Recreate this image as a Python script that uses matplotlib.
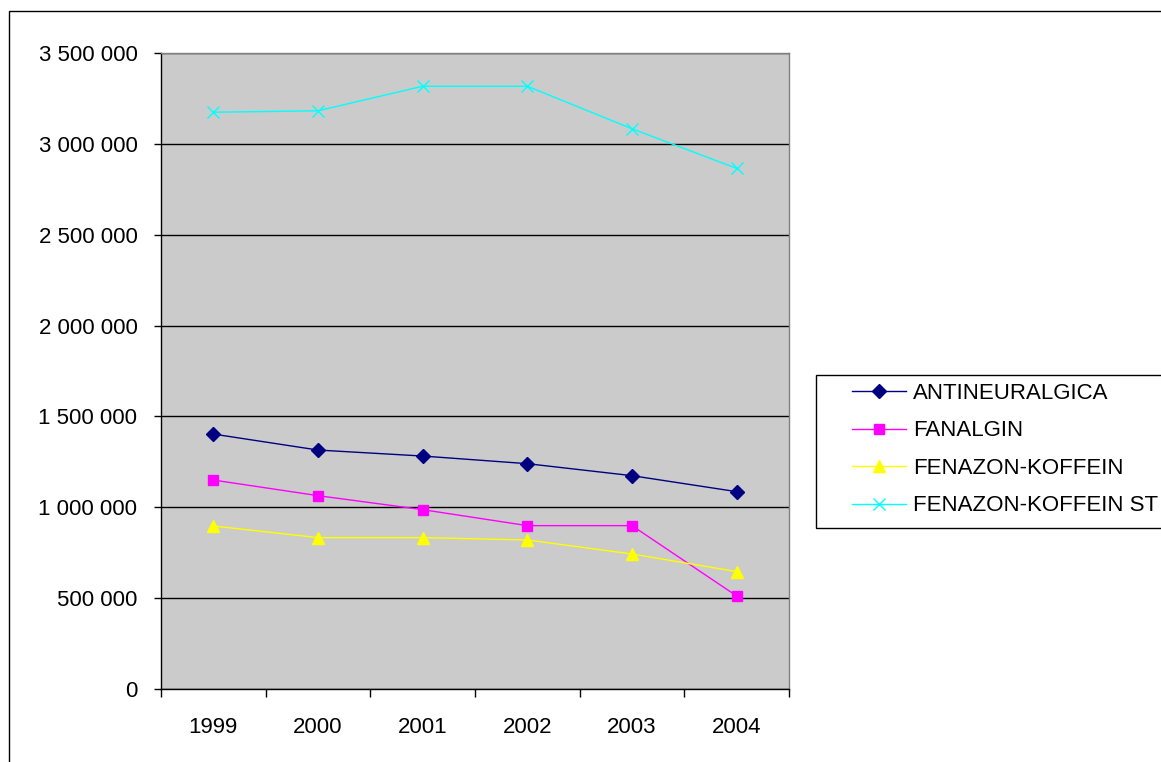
import matplotlib
matplotlib.use("Agg")
import matplotlib.pyplot as plt
from matplotlib.patches import Rectangle
from matplotlib.ticker import FuncFormatter, FixedLocator

years = ["1999", "2000", "2001", "2002", "2003", "2004"]
antineuralgica = [1403000, 1315000, 1282000, 1240000, 1174000, 1086000]
fanalgin = [1150000, 1064000, 987000, 899000, 899000, 512000]
fenazon_koffein = [897000, 833000, 833000, 820000, 743000, 646000]
fenazon_koffein_st = [3174000, 3182000, 3317000, 3317000, 3083000, 2865000]
series_names = ["ANTINEURALGICA", "FANALGIN", "FENAZON-KOFFEIN", "FENAZON-KOFFEIN ST"]
y_ticks = [0, 500000, 1000000, 1500000, 2000000, 2500000, 3000000, 3500000]

plt.rcParams['font.family'] = ['Liberation Sans', 'DejaVu Sans']
FS = 16
W, H = 1161, 762
fig = plt.figure(figsize=(W / 100, H / 100), dpi=100)
fig.patch.set_facecolor('white')

ax = fig.add_axes([161 / W, 1 - 689 / H, (789 - 161) / W, (689 - 53) / H])
ax.set_facecolor('#CBCBCB')

x = list(range(len(years)))
styles = [
    dict(color='#000080', marker='D', markersize=7, mfc='#000080', mec='#000080'),
    dict(color='#FF00FF', marker='s', markersize=7.5, mfc='#FF00FF', mec='#FF00FF'),
    dict(color='#FFFF00', marker='^', markersize=9, mfc='#FFFF00', mec='#FFFF00'),
    dict(color='#00FFFF', marker='x', markersize=9, mfc='none', mec='#00FFFF', mew=1.0),
]
data = [antineuralgica, fanalgin, fenazon_koffein, fenazon_koffein_st]
for vals, name, st in zip(data, series_names, styles):
    ax.plot(x, vals, lw=1.0, label=name, zorder=3, clip_on=False, **st)

ax.set_xlim(-0.5, len(years) - 0.5)
ax.set_ylim(0, 3500000)
ax.yaxis.set_major_locator(FixedLocator(y_ticks))
ax.yaxis.set_major_formatter(FuncFormatter(lambda v, p: f"{int(v):,}".replace(',', ' ')))
ax.grid(axis='y', color='black', lw=1.0, zorder=1)
ax.set_axisbelow(True)

ax.set_xticks(x)
ax.set_xticklabels(years)
ax.set_xticks([i - 0.5 for i in range(len(years) + 1)], minor=True)
ax.tick_params(axis='x', which='major', length=0, pad=20, labelsize=FS)
ax.tick_params(axis='x', which='minor', length=6, width=1, direction='out', color='black')
ax.tick_params(axis='y', which='major', length=5, width=1, direction='out', pad=12,
               labelsize=FS, color='black')

for s in ['left', 'bottom']:
    ax.spines[s].set_color('black')
    ax.spines[s].set_linewidth(1.0)
for s in ['top', 'right']:
    ax.spines[s].set_color('#808080')
    ax.spines[s].set_linewidth(1.0)

leg = ax.legend(loc='upper left', bbox_to_anchor=(852 / W, 1 - 383 / H),
                bbox_transform=fig.transFigure, borderaxespad=0, borderpad=0,
                fontsize=FS, frameon=False,
                handlelength=2.45, handletextpad=0.3, labelspacing=0.74)

fig.patches.append(Rectangle((816 / W, 1 - 528 / H), 0.5, (528 - 375) / H,
                             transform=fig.transFigure, fill=False,
                             edgecolor='black', lw=1.0, zorder=5))

fig.patches.append(Rectangle((9 / W, -0.1), 1.2, 1 - 11 / H + 0.1,
                             transform=fig.transFigure, fill=False,
                             edgecolor='black', lw=1.0))

fig.savefig('out.png', dpi=100)
